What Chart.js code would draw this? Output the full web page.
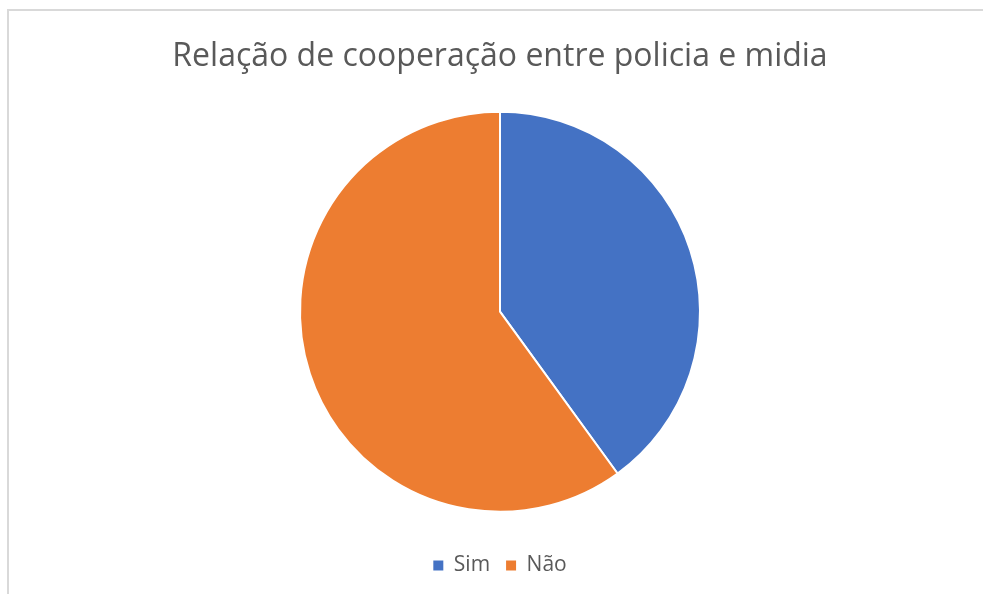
<!DOCTYPE html>
<html lang="pt">
<head>
    <meta charset="UTF-8">
    <title>Relação de cooperação entre policia e midia</title>
    <script src="https://cdn.jsdelivr.net/npm/chart.js"></script>
    <style>
        html, body {
            margin: 0;
            padding: 0;
            background: #ffffff;
            overflow: hidden;
        }
        .frame {
            position: absolute;
            left: 7px;
            top: 9px;
            width: 990px;
            height: 600px;
            border-left: 2px solid #d9d9d9;
            border-top: 2px solid #d9d9d9;
        }
        .chart-container {
            position: absolute;
            left: 0;
            top: 0;
            width: 983px;
            height: 594px;
        }
    </style>
</head>
<body>
    <div class="frame"></div>
    <div class="chart-container">
        <canvas id="pieChart"></canvas>
    </div>

    <script>
        // Dados
        const categorias = ['Sim', 'Não'];
        const valores = [40, 60];
        const cores = ['#4472C4', '#ED7D31'];

        const ctx = document.getElementById('pieChart').getContext('2d');
        new Chart(ctx, {
            type: 'pie',
            data: {
                labels: categorias,
                datasets: [{
                    data: valores,
                    backgroundColor: cores,
                    borderColor: '#ffffff',
                    borderWidth: 2
                }]
            },
            options: {
                responsive: true,
                maintainAspectRatio: false,
                animation: false,
                radius: 200,
                layout: {
                    padding: { top: 20, bottom: 8, left: 17, right: 0 }
                },
                plugins: {
                    title: {
                        display: true,
                        text: 'Relação de cooperação entre policia e midia',
                        color: '#595959',
                        font: { family: 'Open Sans', size: 32, weight: 'normal' },
                        padding: { top: 18, bottom: 8 }
                    },
                    legend: {
                        position: 'bottom',
                        labels: {
                            color: '#595959',
                            font: { family: 'Open Sans', size: 21 },
                            boxWidth: 10,
                            boxHeight: 10,
                            padding: 16,
                            // carré plein, sans le bord blanc des secteurs
                            generateLabels: (chart) =>
                                Chart.overrides.pie.plugins.legend.labels.generateLabels(chart)
                                    .map(item => ({ ...item, lineWidth: 0 }))
                        }
                    },
                    tooltip: { enabled: false }
                }
            }
        });
    </script>
</body>
</html>
